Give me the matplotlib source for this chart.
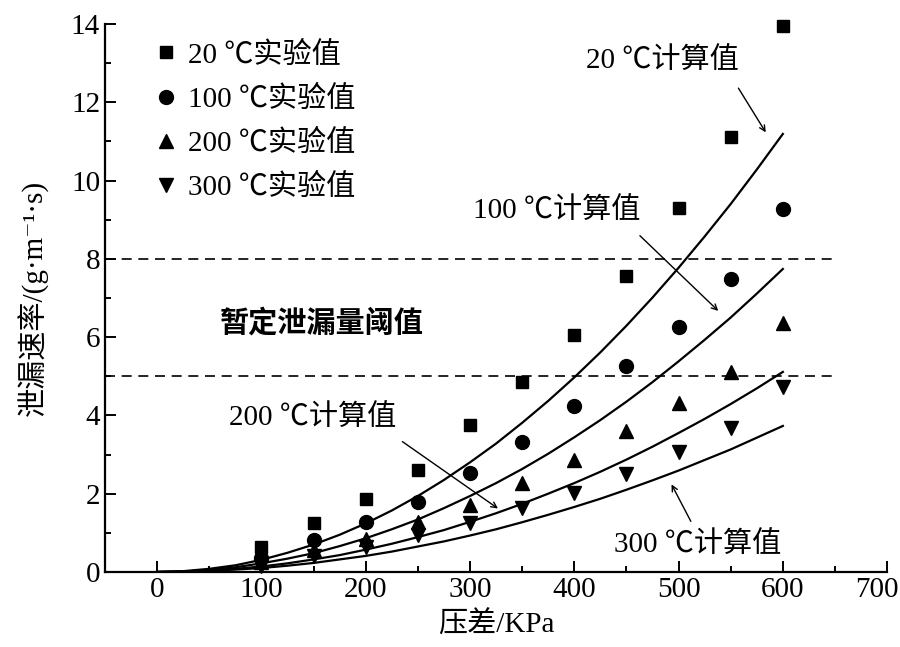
import matplotlib
matplotlib.use("Agg")
import matplotlib.pyplot as plt
from matplotlib.ticker import MultipleLocator
from matplotlib.transforms import ScaledTranslation

plt.rcParams['font.family'] = ['Liberation Serif', 'Noto Sans CJK SC', 'DejaVu Serif']

# 实验值
P_exp = [100, 150, 200, 250, 300, 350, 400, 450, 500, 550, 600]
exp_20 = [0.65, 1.25, 1.86, 2.60, 3.75, 4.85, 6.05, 7.55, 9.30, 11.10, 13.95]
exp_100 = [0.35, 0.82, 1.28, 1.79, 2.53, 3.32, 4.24, 5.27, 6.26, 7.48, 9.27]
exp_200 = [0.25, 0.55, 0.85, 1.28, 1.71, 2.27, 2.86, 3.60, 4.31, 5.11, 6.36]
exp_300 = [0.15, 0.40, 0.65, 0.95, 1.25, 1.63, 2.02, 2.50, 3.07, 3.68, 4.73]

# 计算值
P_cal = [0, 25, 50, 75, 100, 125, 150, 175, 200, 225, 250, 275, 300,
         325, 350, 375, 400, 425, 450, 475, 500, 525, 550, 575, 600]
cal_20 = [0, 0.02, 0.08, 0.17, 0.31, 0.49, 0.70, 0.95, 1.24, 1.57, 1.94, 2.35, 2.80,
          3.28, 3.81, 4.37, 4.97, 5.61, 6.29, 7.01, 7.77, 8.57, 9.40, 10.28, 11.19]
cal_100 = [0, 0.01, 0.05, 0.12, 0.22, 0.34, 0.48, 0.66, 0.86, 1.09, 1.34, 1.63, 1.94,
           2.27, 2.63, 3.02, 3.44, 3.88, 4.35, 4.85, 5.38, 5.93, 6.50, 7.11, 7.74]
cal_200 = [0, 0.01, 0.04, 0.08, 0.14, 0.22, 0.32, 0.43, 0.57, 0.72, 0.89, 1.07, 1.28,
           1.50, 1.74, 2.00, 2.27, 2.56, 2.87, 3.20, 3.55, 3.91, 4.29, 4.69, 5.11]
cal_300 = [0, 0.01, 0.03, 0.06, 0.10, 0.16, 0.23, 0.32, 0.41, 0.52, 0.65, 0.78, 0.93,
           1.09, 1.27, 1.46, 1.66, 1.87, 2.10, 2.34, 2.59, 2.86, 3.13, 3.43, 3.73]

thresholds = [8, 5]

fig = plt.figure(figsize=(9, 6.47), dpi=100)
ax = fig.add_axes([0.1167, 0.116, 0.869, 0.847])

ax.plot(P_exp, exp_20, 's', color='black', ms=8.5, label='20 ℃实验值', clip_on=False)
ax.plot(P_exp, exp_100, 'o', color='black', ms=10, label='100 ℃实验值', clip_on=False)
ax.plot(P_exp, exp_200, '^', color='black', ms=10, label='200 ℃实验值', clip_on=False)
ax.plot(P_exp, exp_300, 'v', color='black', ms=10, label='300 ℃实验值', clip_on=False)

for c in [cal_20, cal_100, cal_200, cal_300]:
    ax.plot(P_cal, c, '-', color='black', lw=1.6)

for t in thresholds:
    ax.plot([-50, 650], [t, t], '--', color='black', lw=1.2, dashes=(6, 4))

ax.set_xlim(-50, 700)
ax.set_ylim(0, 14)
ax.set_xticks([0, 100, 200, 300, 400, 500, 600, 700])
ax.xaxis.set_minor_locator(MultipleLocator(50))
ax.yaxis.set_major_locator(MultipleLocator(2))
ax.yaxis.set_minor_locator(MultipleLocator(1))
ax.tick_params(which='major', direction='in', length=8, width=1.4, labelsize=21)
ax.tick_params(which='minor', direction='in', length=4.5, width=1.4)
for s in ['top', 'right']:
    ax.spines[s].set_visible(False)
for s in ['left', 'bottom']:
    ax.spines[s].set_linewidth(1.6)

ax.set_xlabel('压差/KPa', fontsize=21, labelpad=6)
ax.set_ylabel('泄漏速率/(g·m⁻¹·s)', fontsize=21, labelpad=16)

ax.legend(loc='upper left', bbox_to_anchor=(0.056, 0.968), frameon=False,
          fontsize=21, handletextpad=0.15, labelspacing=0.58, handlelength=1.2,
          borderpad=0, borderaxespad=0)

ax.text(158, 6.36, '暂定泄漏量阈值', fontsize=21, fontweight='bold',
        ha='center', va='center')

arrow = dict(arrowstyle='->', color='black', lw=1.0)
ax.text(484, 13.05, '20 ℃计算值', fontsize=21, ha='center', va='center')
ax.annotate('', xy=(585, 11.17), xytext=(556, 12.42), arrowprops=arrow)
ax.text(383, 9.20, '100 ℃计算值', fontsize=21, ha='center', va='center')
ax.annotate('', xy=(540, 6.62), xytext=(461, 8.64), arrowprops=arrow)
ax.text(149, 3.93, '200 ℃计算值', fontsize=21, ha='center', va='center')
ax.annotate('', xy=(329, 1.58), xytext=(233, 3.37), arrowprops=arrow)
ax.text(518, 0.69, '300 ℃计算值', fontsize=21, ha='center', va='center')
ax.annotate('', xy=(492, 2.30), xytext=(513, 1.23), arrowprops=arrow)

# 700 标签稍向左移, 避免被裁掉
fig.canvas.draw()
lbl = ax.xaxis.get_major_ticks()[-1].label1
lbl.set_transform(lbl.get_transform() + ScaledTranslation(-0.1, 0, fig.dpi_scale_trans))

fig.savefig('out.png', dpi=100)
